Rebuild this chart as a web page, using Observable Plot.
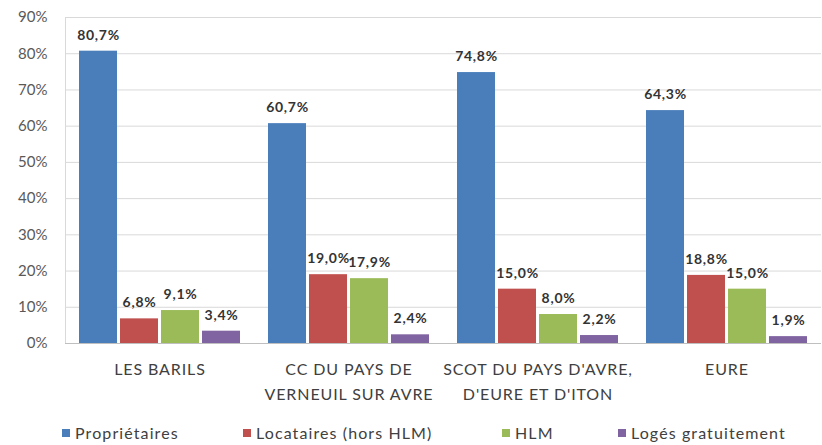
<!DOCTYPE html>
<html><head><meta charset="utf-8">
<script src="https://cdn.jsdelivr.net/npm/d3@7"></script>
<script src="https://cdn.jsdelivr.net/npm/@observablehq/plot@0.6"></script>
<style>
body{margin:0;background:#fff;font-family:Lato,"Open Sans",sans-serif;}
#legend{position:relative;height:35px;font-size:16px;color:#404040;line-height:18px;letter-spacing:1.1px;}
.item{position:absolute;top:14px;display:flex;align-items:center;white-space:nowrap;}
.sw{width:8px;height:8px;margin-right:5px;display:inline-block;}
g[aria-label="fx-axis tick label"] text{letter-spacing:0.9px;}
g[aria-label="text"] text{letter-spacing:0.7px;}
</style></head><body><div id="chart"></div><div id="legend"></div>
<script>
const categories = ["LES BARILS", "CC DU PAYS DE\nVERNEUIL SUR AVRE", "SCOT DU PAYS D'AVRE,\nD'EURE ET D'ITON", "EURE"];
const series = ["Propriétaires", "Locataires (hors HLM)", "HLM", "Logés gratuitement"];
const colors = ["#4a7ebb", "#c0504d", "#9bbb59", "#8064a2"];
const proprietaires = [80.7, 60.7, 74.8, 64.3];
const locataires = [6.8, 19.0, 15.0, 18.8];
const hlm = [9.1, 17.9, 8.0, 15.0];
const loges = [3.4, 2.4, 2.2, 1.9];
const yTicks = [0, 10, 20, 30, 40, 50, 60, 70, 80, 90];

const values = [proprietaires, locataires, hlm, loges];
const data = categories.flatMap((cat, i) => series.map((s, j) => ({cat, series: s, value: values[j][i]})));
const fmt = v => v.toFixed(1).replace(".", ",") + "%";
const font = "Lato, 'Open Sans', sans-serif";

const chart = Plot.plot({
  width: 822, height: 410,
  marginLeft: 63, marginRight: 0, marginTop: 17, marginBottom: 67,
  style: {fontFamily: font, fontSize: "15px", color: "#595959", background: "#fff"},
  fx: {domain: categories, padding: 0, label: null, axis: null},
  x: {domain: series, paddingInner: 0.07, paddingOuter: 0.3, axis: null},
  y: {domain: [0, 90], label: null, axis: null},
  color: {domain: series, range: colors},
  marks: [
    Plot.gridY(yTicks, {stroke: "#d9d9d9", strokeOpacity: 1}),
    Plot.frame({anchor: "left", facetAnchor: "left", stroke: "#d9d9d9", strokeOpacity: 1}),
    Plot.barY(data, {fx: "cat", x: "series", y: "value", fill: "series"}),
    Plot.ruleY([0], {stroke: "#bfbfbf"}),
    Plot.text(data, {fx: "cat", x: "series", y: "value", text: d => fmt(d.value), dy: -16, fontWeight: "bold", fontSize: 14, fill: "#333"}),
    Plot.axisY(yTicks, {tickFormat: d => d + "%", tickSize: 0, tickPadding: 18, fontSize: 15, fill: "#595959"}),
    Plot.axisFx({anchor: "bottom", tickSize: 0, tickPadding: 13, lineHeight: 1.6, fontSize: 16, fill: "#404040", label: null})
  ]
});
document.getElementById("chart").appendChild(chart);

const legendX = [62, 243, 502, 618];
const legend = document.getElementById("legend");
series.forEach((s, i) => {
  const it = document.createElement("div");
  it.className = "item";
  it.style.left = legendX[i] + "px";
  const sw = document.createElement("span");
  sw.className = "sw";
  sw.style.background = colors[i];
  it.appendChild(sw);
  it.appendChild(document.createTextNode(s));
  legend.appendChild(it);
});
</script></body></html>
